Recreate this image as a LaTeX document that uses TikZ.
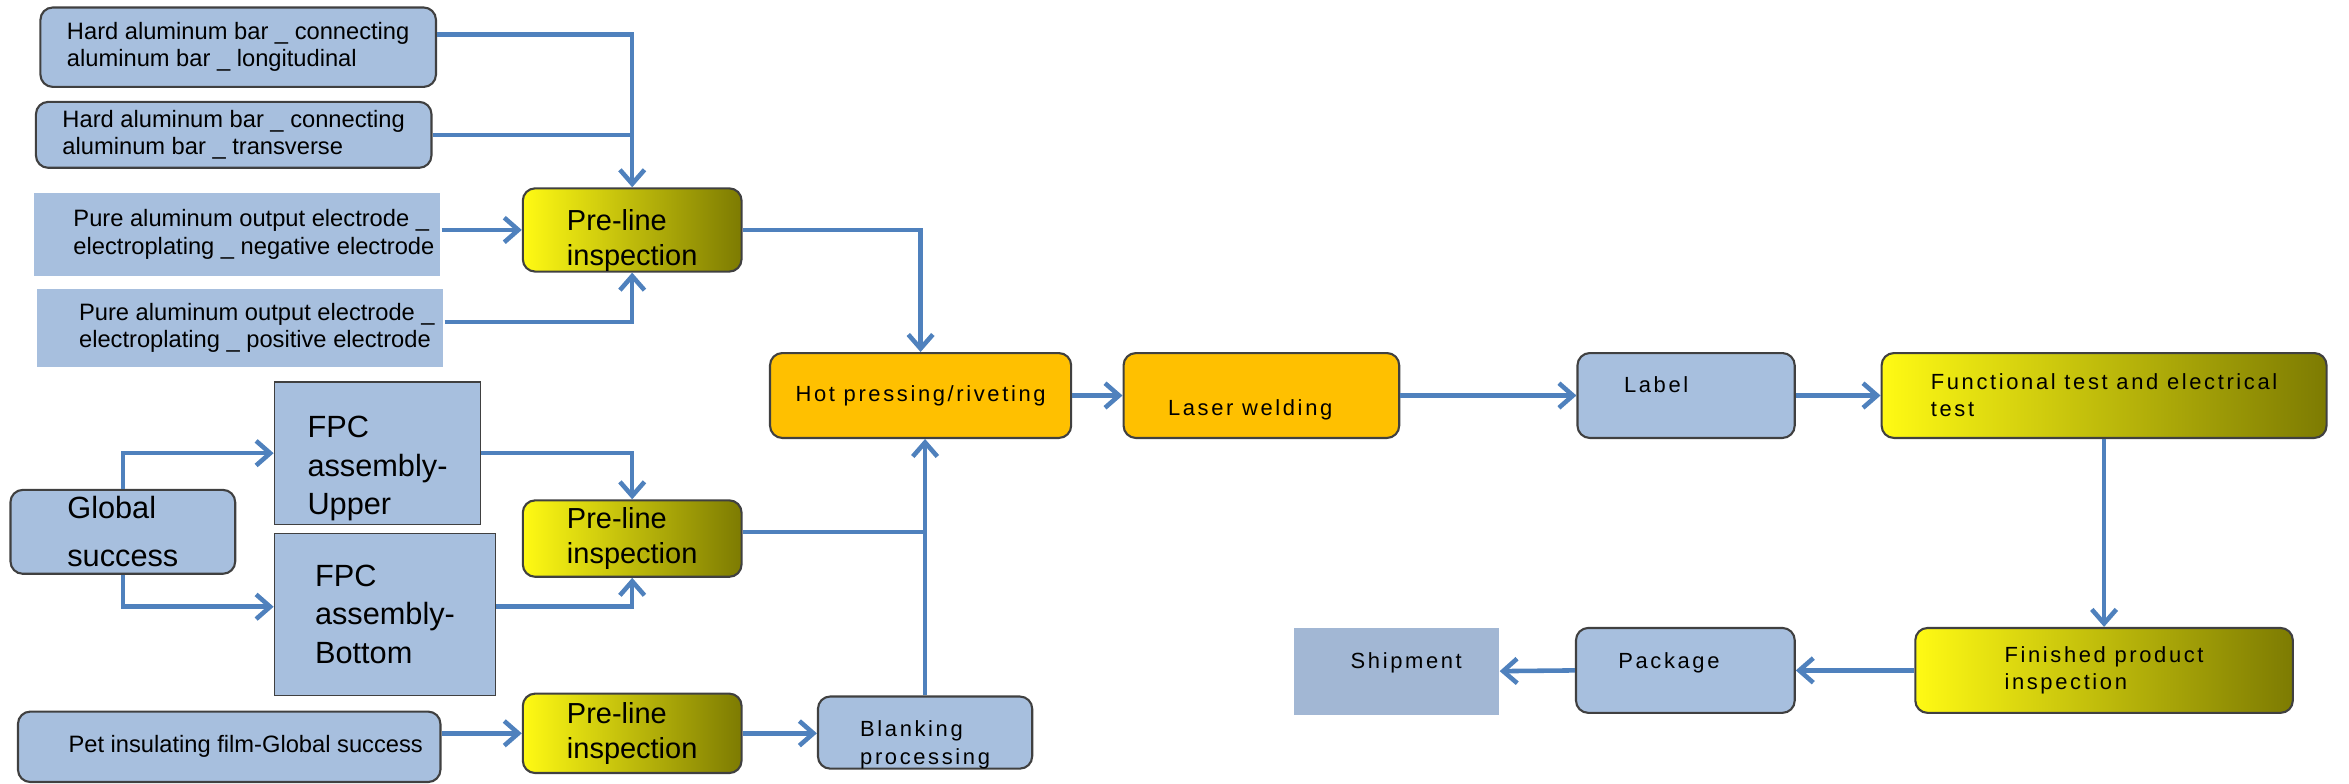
\documentclass[tikz,border=0pt]{standalone}
\usepackage{fontspec}
\setmainfont{Liberation Sans}
\newfontfamily\spacedfont[LetterSpace=12]{Liberation Sans}
\usetikzlibrary{arrows.meta, positioning, calc}

\definecolor{partblue}{HTML}{A7BFDE}
\definecolor{shipblue}{HTML}{A2B7D4}
\definecolor{boxline}{HTML}{404040}
\definecolor{flowblue}{HTML}{4F81BD}
\definecolor{pressorange}{HTML}{FFC000}
\definecolor{checkleft}{HTML}{FFFA14}
\definecolor{checkmid}{HTML}{DAD60C}
\definecolor{checkright}{HTML}{7D7B02}

% taller first line, pushes the text down in its box
\newcommand{\topgap}[1]{\rule{0pt}{#1}}

\tikzset{
	part/.style={
		rectangle,
		rounded corners=7pt,
		draw=boxline,
		line width=1.2pt,
		fill=partblue,
		inner sep=0pt,
		align=left,
		font=\fontsize{13.5}{15.5}\selectfont
	},
	plainpart/.style={part, draw=none, sharp corners},
	fpc/.style={part, sharp corners, line width=0.6pt, font=\fontsize{17.5}{22}\selectfont},
	source/.style={part, font=\fontsize{17.5}{27.5}\selectfont},
	inspect/.style={
		part,
		left color=checkleft,
		middle color=checkmid,
		right color=checkright,
		font=\fontsize{16.5}{20}\selectfont
	},
	stage/.style={part, font=\spacedfont\fontsize{12.5}{15.5}\selectfont},
	press/.style={stage, fill=pressorange},
	checkstage/.style={stage, left color=checkleft, middle color=checkmid, right color=checkright},
	ship/.style={stage, draw=none, sharp corners, fill=shipblue}
}

\begin{document}
\begin{tikzpicture}[x=0.03cm, y=-0.03cm]
	\useasboundingbox (0,0) rectangle (1568,523);

	% aluminum parts
	\node[part, minimum width=7.92cm, minimum height=1.59cm] (barlong) at (159,31.5)
		{Hard aluminum bar \_ connecting\\aluminum bar \_ longitudinal};
	\node[part, minimum width=7.92cm, minimum height=1.32cm] (bartrans) at (156,90)
		{Hard aluminum bar \_ connecting\\aluminum bar \_ transverse};
	\node[plainpart, minimum width=8.13cm, minimum height=1.65cm] (electneg) at (158.5,156.5)
		{\hspace*{0.66cm}Pure aluminum output electrode \_\\\hspace*{0.66cm}electroplating \_ negative electrode};
	\node[plainpart, minimum width=8.13cm, minimum height=1.56cm] (electpos) at (160.5,219)
		{\hspace*{0.66cm}Pure aluminum output electrode \_\\\hspace*{0.66cm}electroplating \_ positive electrode};

	% FPC and film
	\node[source, minimum width=4.5cm, minimum height=1.68cm] (globalsucc) at (82,355) {Global\\success};
	\node[fpc, minimum width=4.14cm, minimum height=2.85cm] (fpcup) at (252,302.5) {\topgap{30pt}FPC\\assembly-\\Upper};
	\node[fpc, minimum width=4.44cm, minimum height=3.24cm] (fpcbot) at (257,410) {FPC\\assembly-\\Bottom};
	\node[part, minimum width=8.46cm, minimum height=1.41cm] (film) at (153,498.5)
		{\hspace*{0.66cm}Pet insulating film-Global success};

	% pre-line inspections
	\node[inspect, minimum width=4.38cm, minimum height=1.65cm] (inspect1) at (422,153.5) {\topgap{24pt}Pre-line\\inspection};
	\node[inspect, minimum width=4.38cm, minimum height=1.53cm] (inspect2) at (422,359.5) {Pre-line\\inspection};
	\node[inspect, minimum width=4.38cm, minimum height=1.59cm] (inspect3) at (422,489.5) {Pre-line\\inspection};
	\node[stage, minimum width=4.29cm, minimum height=1.38cm] (blanking) at (617.5,489) {\topgap{23pt}Blanking\\processing};

	% main line
	\node[press, minimum width=6.03cm, minimum height=1.7cm] (hotpress) at (614.5,264) {Hot pressing/riveting};
	\node[press, minimum width=5.52cm, minimum height=1.7cm, text height=25pt] (laser) at (842,264) {Laser welding\hspace*{0.45cm}};
	\node[stage, minimum width=4.35cm, minimum height=1.7cm, text depth=12pt] (labelling) at (1125.5,264) {Label\hspace*{1.2cm}};
	\node[checkstage, minimum width=8.91cm, minimum height=1.7cm] (functest) at (1404.5,264)
		{Functional test and electrical\\test};
	\node[checkstage, minimum width=7.56cm, minimum height=1.7cm] (finalcheck) at (1404.5,447.5)
		{Finished product\\inspection};
	\node[stage, minimum width=4.38cm, minimum height=1.7cm, text depth=11pt] (package) at (1125,447.5) {Package\hspace*{0.66cm}};
	\node[ship, minimum width=4.1cm, minimum height=1.74cm, text depth=12pt] (shipment) at (932,448) {\hspace*{0.4cm}Shipment};

	% connections
	\begin{scope}[flowblue, line width=2.6pt, >={Straight Barb[length=8pt, width=14pt]}]
	\coordinate (fpcout) at ([yshift=0.15cm]fpcbot.east);
	\coordinate (inspect2out) at ([yshift=0.13cm]inspect2.east);

	\draw[->] ([yshift=0.25cm]barlong.east) -| (inspect1.north);
	\draw (bartrans.east) -- (bartrans.east -| inspect1.north);
	\draw[->] (electneg.east |- inspect1.west) -- (inspect1.west);
	\draw[->] ([yshift=0.12cm]electpos.east) -| (inspect1.south);
	\draw[->] (inspect1.east) -| (hotpress.north);

	\draw[->] (globalsucc.north) |- (fpcup.west);
	\draw[->] (globalsucc.south) |- ([yshift=0.15cm]fpcbot.west);
	\draw[->] (fpcup.east) -| (inspect2.north);
	\draw[->] (fpcout) -| (inspect2.south);
	\draw (inspect2out) -- (inspect2out -| blanking.north);

	\draw[->] (film.east |- inspect3.west) -- (inspect3.west);
	\draw[->] (inspect3.east) -- (inspect3.east -| blanking.west);
	\draw[->] (blanking.north) -- (blanking.north |- hotpress.south);

	\draw[->] (hotpress.east) -- (laser.west);
	\draw[->] (laser.east) -- (labelling.west);
	\draw[->] (labelling.east) -- (functest.west);
	\draw[->] (functest.south) -- (finalcheck.north);
	\draw[->] (finalcheck.west) -- (package.east);
	\draw[->] (package.west) -- (shipment.east);
	\end{scope}
\end{tikzpicture}
\end{document}
